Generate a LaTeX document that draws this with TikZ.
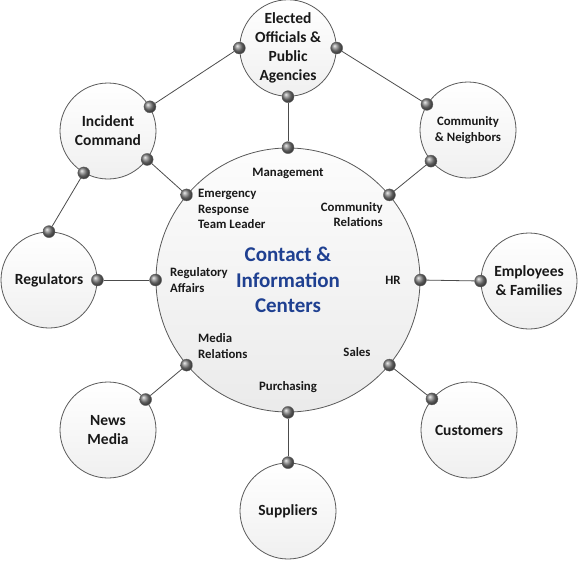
\documentclass[tikz,border=0pt]{standalone}
\usepackage{fontspec}
\setmainfont{Carlito}
\definecolor{titleblue}{RGB}{31,64,145}
\begin{document}
\begin{tikzpicture}[x=1pt,y=-1pt,
  sat/.style={circle, draw=black!65, line width=0.8pt, minimum size=96pt, inner sep=0pt,
    top color=white, bottom color=black!6, align=center,
    font=\fontsize{15.5}{19}\selectfont\bfseries, text=black!90},
  satsmall/.style={sat, font=\fontsize{12.8}{15.5}\selectfont\bfseries},
  hub/.style={circle, draw=black!65, line width=0.8pt, minimum size=264pt, inner sep=0pt,
    top color=black!1, bottom color=black!8},
  lbl/.style={font=\fontsize{12.8}{15.5}\selectfont\bfseries, text=black!90, inner sep=0pt},
  title/.style={align=center, font=\fontsize{21}{25.5}\selectfont\bfseries, text=titleblue, inner sep=0pt},
  dot/.style={circle, minimum size=12pt, inner sep=0pt, ball color=black!50, draw=black!60, line width=0.4pt},
  link/.style={draw=black!70, line width=0.8pt}]
\useasboundingbox (0,0) rectangle (579,563);

% hub
\node[hub] (hub) at (288,280) {};
\node[title] (ttl) at (288,280) {Contact \&\\Information\\Centers};

% hub labels
\node[lbl] (lmgmt) at (288,173) {Management};
\node[lbl, align=left, anchor=west] (lert) at (198,209) {Emergency\\Response\\Team Leader};
\node[lbl, align=right, anchor=east] (lcr) at (383,214.5) {Community\\Relations};
\node[lbl, align=left, anchor=west] (lreg) at (170,280) {Regulatory\\Affairs};
\node[lbl] (lhr) at (393,280) {HR};
\node[lbl, align=left, anchor=west] (lmr) at (198,346) {Media\\Relations};
\node[lbl] (lsales) at (357,352) {Sales};
\node[lbl] (lpur) at (288,387) {Purchasing};

% satellites
\node[sat] (eo) at (288,48) {Elected\\Officials \&\\Public\\Agencies};
\node[sat] (ic) at (108,131) {Incident\\Command};
\node[satsmall] (cn) at (468,130) {Community\\\& Neighbors};
\node[sat] (rg) at (49,280) {Regulators};
\node[sat] (ef) at (529,281) {Employees\\\& Families};
\node[sat] (nm) at (108,430) {News\\Media};
\node[sat] (cu) at (469,430) {Customers};
\node[sat] (su) at (288,511) {Suppliers};

% dots on hub
\node[dot] (hT) at (hub.90) {};
\node[dot] (hTL) at (hub.140) {};
\node[dot] (hTR) at (hub.40) {};
\node[dot] (hL) at (hub.180) {};
\node[dot] (hR) at (hub.0) {};
\node[dot] (hBL) at (hub.-140) {};
\node[dot] (hBR) at (hub.-40) {};
\node[dot] (hB) at (hub.-90) {};

% dots on satellites
\node[dot] (eoL) at (eo.180) {};
\node[dot] (eoR) at (eo.0) {};
\node[dot] (eoB) at (eo.-90) {};
\node[dot] (icA) at (ic.30) {};
\node[dot] (icB) at (ic.-36) {};
\node[dot] (icC) at (ic.-120) {};
\node[dot] (cnA) at (cn.148) {};
\node[dot] (cnB) at (cn.-140) {};
\node[dot] (rgT) at (rg.90) {};
\node[dot] (rgR) at (rg.0) {};
\node[dot] (efL) at (ef.180) {};
\node[dot] (nmA) at (nm.39) {};
\node[dot] (cuA) at (cu.140) {};
\node[dot] (suT) at (su.90) {};

% connectors
\draw[link] (eoB) -- (hT);
\draw[link] (eoL) -- (icA);
\draw[link] (eoR) -- (cnA);
\draw[link] (icB) -- (hTL);
\draw[link] (icC) -- (rgT);
\draw[link] (cnB) -- (hTR);
\draw[link] (rgR) -- (hL);
\draw[link] (efL) -- (hR);
\draw[link] (nmA) -- (hBL);
\draw[link] (cuA) -- (hBR);
\draw[link] (suT) -- (hB);
\end{tikzpicture}
\end{document}
